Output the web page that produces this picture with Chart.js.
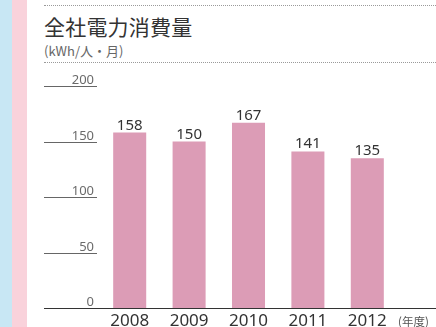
<!DOCTYPE html>
<html lang="ja">
<head>
<meta charset="utf-8">
<script src="https://cdn.jsdelivr.net/npm/chart.js@4"></script>
<style>
  html, body { margin:0; padding:0; background:#fff; }
  #wrap { position:relative; width:436px; height:327px; overflow:hidden; font-family:"Noto Sans CJK JP","Noto Sans",sans-serif; }
  .stripe { position:absolute; top:0; bottom:0; }
  #s1 { left:0; width:12px; background:#c8e7f4; }
  #s2 { left:12px; width:15px; background:#f9d2db; }
  .dots { position:absolute; left:44px; right:0; border-top:1px dotted #9a9a9a; }
  #title { position:absolute; left:44px; top:11px; font-size:21px; color:#333; letter-spacing:0.2px; }
  #unit { position:absolute; left:44px; top:41px; font-size:13px; color:#666; }
  #nendo { position:absolute; left:398px; top:313px; font-size:11.5px; color:#555; }
  canvas { position:absolute; left:0; top:0; }
</style>
</head>
<body>
<div id="wrap">
  <div class="stripe" id="s1"></div>
  <div class="stripe" id="s2"></div>
  <div class="dots" style="top:5px"></div>
  <div id="title">全社電力消費量</div>
  <div id="unit">(kWh/人・月)</div>
  <div class="dots" style="top:62px"></div>
  <canvas id="c" width="436" height="327"></canvas>
  <div id="nendo">(年度)</div>
</div>
<script>
const years = ['2008', '2009', '2010', '2011', '2012'];
const usage = [158, 150, 167, 141, 135];
const yTicks = [0, 50, 100, 150, 200];

const numFont = '"Noto Sans", "Open Sans", sans-serif';

// short tick marks with the number sitting on top, plus the long zero line
const axisMarks = {
  id: 'axisMarks',
  afterDraw(chart) {
    const ctx = chart.ctx, y = chart.scales.y;
    ctx.save();
    ctx.font = '13px ' + numFont;
    ctx.textAlign = 'right';
    ctx.textBaseline = 'alphabetic';
    yTicks.forEach(v => {
      const py = Math.round(y.getPixelForValue(v)) + 0.5;
      ctx.strokeStyle = v === 0 ? '#333' : '#666';
      ctx.lineWidth = 1;
      ctx.beginPath();
      ctx.moveTo(44, py);
      ctx.lineTo(v === 0 ? chart.width : 97, py);
      ctx.stroke();
      ctx.fillStyle = '#6a6a6a';
      ctx.fillText(String(v), 94, py - 3);
    });
    // value labels above each bar
    const meta = chart.getDatasetMeta(0);
    ctx.font = '15px ' + numFont;
    ctx.textAlign = 'center';
    ctx.fillStyle = '#333';
    meta.data.forEach((bar, i) => {
      ctx.fillText(String(usage[i]), bar.x, bar.y - 3);
    });
    ctx.restore();
  }
};

new Chart(document.getElementById('c'), {
  type: 'bar',
  data: {
    labels: years,
    datasets: [{
      data: usage,
      backgroundColor: '#dc9cb6',
      borderWidth: 0,
      categoryPercentage: 1,
      barPercentage: 0.556
    }]
  },
  options: {
    responsive: false,
    devicePixelRatio: 1,
    animation: false,
    layout: { padding: { left: 100, right: 39, top: 86, bottom: 0 } },
    plugins: { legend: { display: false }, tooltip: { enabled: false } },
    scales: {
      y: { display: false, min: 0, max: 200, ticks: { stepSize: 50 } },
      x: {
        grid: { display: false, drawTicks: false },
        border: { display: false },
        ticks: { color: '#333', font: { family: numFont, size: 17 }, padding: 3 },
        afterFit(s) { s.height = 19; }
      }
    }
  },
  plugins: [axisMarks]
});
</script>
</body>
</html>
